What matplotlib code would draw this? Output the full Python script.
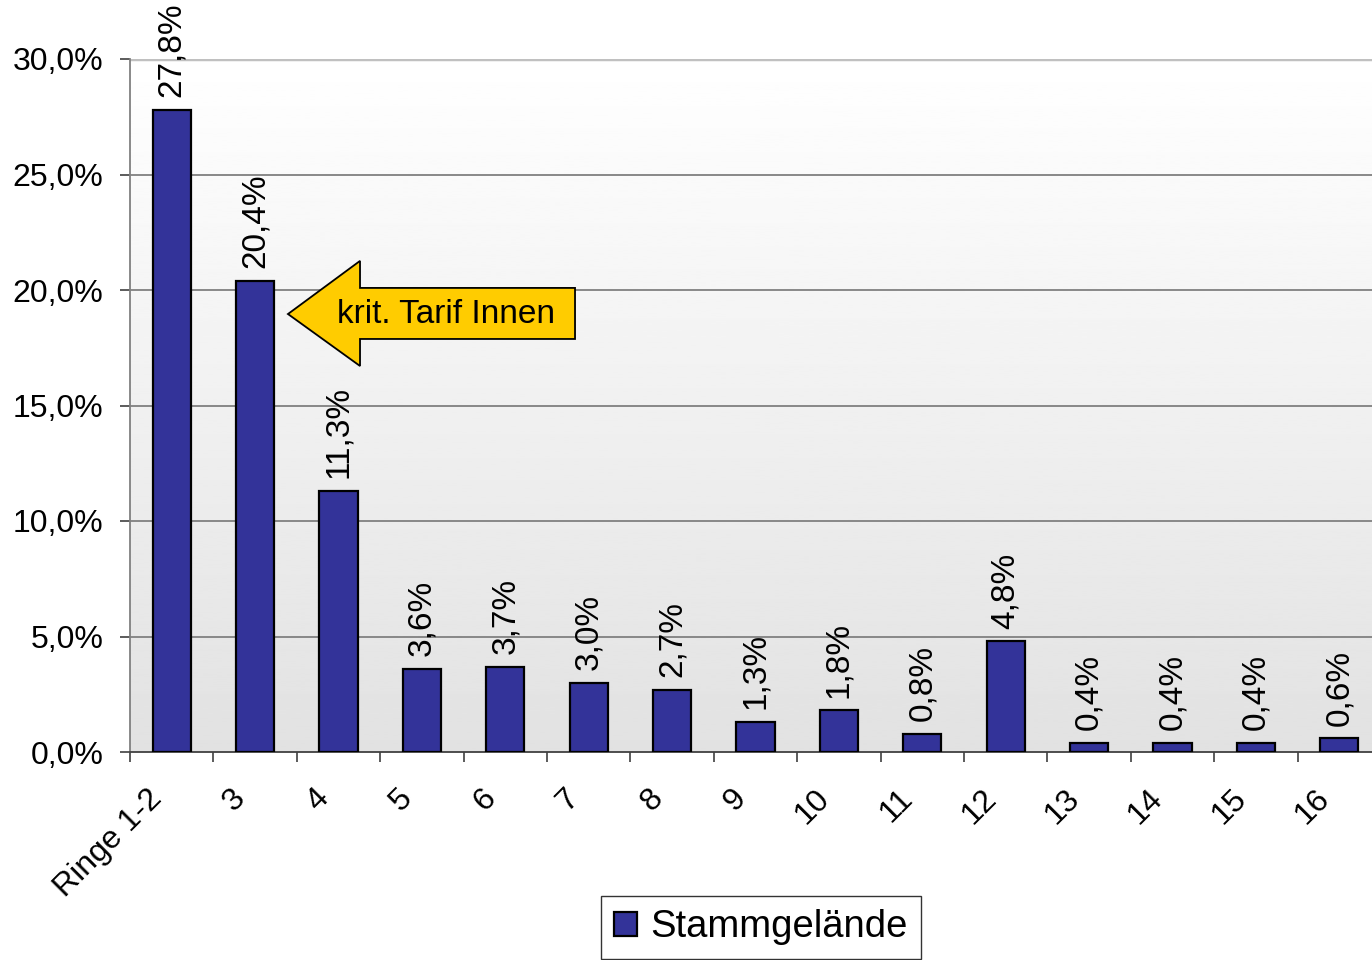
import numpy as np
import matplotlib
matplotlib.use("Agg")
import matplotlib.pyplot as plt
from matplotlib.patches import Polygon
from matplotlib.transforms import ScaledTranslation

plt.rcParams['font.family'] = ['Liberation Sans', 'DejaVu Sans']

# data
categories = ['Ringe 1-2', '3', '4', '5', '6', '7', '8', '9', '10',
              '11', '12', '13', '14', '15', '16']
values = [27.8, 20.4, 11.3, 3.6, 3.7, 3.0, 2.7, 1.3, 1.8, 0.8, 4.8,
          0.4, 0.4, 0.4, 0.6]
series_name = 'Stammgelände'
yticks = [0, 5, 10, 15, 20, 25, 30]

def de_pct(v):
    return ('%.1f%%' % v).replace('.', ',')

fig = plt.figure(figsize=(13.72, 9.6), dpi=100)
ax = fig.add_axes([130/1372, 208/960, 1251/1372, 693/960])
ax.set_xlim(-0.5, len(categories) - 0.5)
ax.set_ylim(0, 30)

# gradient background of the plot area (white at top, light grey at bottom)
grad = np.linspace(1.0, 0.885, 256).reshape(-1, 1)
ax.imshow(grad, cmap='gray', vmin=0, vmax=1, aspect='auto', origin='upper',
          extent=[-0.5, len(categories) - 0.5, 0, 30], zorder=0)

# grid lines
for t in yticks[1:-1]:
    ax.axhline(t, color='#808080', lw=1.3, zorder=1)
ax.axhline(30, color='#c0c0c0', lw=2.5, zorder=1)

x = np.arange(len(categories))
bars = ax.bar(x, values, width=0.46, color='#333399', edgecolor='black',
              linewidth=1.6, zorder=3, label=series_name)

for xi, v in zip(x, values):
    ax.annotate(de_pct(v), (xi, v), xytext=(0, 9), textcoords='offset points',
                rotation=90, ha='center', va='bottom', fontsize=24, zorder=4)

ax.set_yticks(yticks)
ax.set_yticklabels([de_pct(t) for t in yticks], fontsize=23)
ax.set_xticks(np.arange(len(categories) + 1) - 0.5, minor=True)
ax.set_xticks(x)
ax.set_xticklabels(categories, fontsize=23, rotation=45, ha='right',
                   va='center', rotation_mode='anchor')
ax.tick_params(axis='x', which='major', length=0, pad=28)
ax.tick_params(axis='x', which='minor', length=7, width=1.2, color='#404040',
               direction='out')
ax.tick_params(axis='y', length=7, width=1.2, color='#404040', pad=12)
shift = ScaledTranslation(-0.14, -0.03, fig.dpi_scale_trans)
for lab in ax.get_xticklabels():
    lab.set_transform(lab.get_transform() + shift)

for s in ['top', 'right']:
    ax.spines[s].set_visible(False)
ax.spines['left'].set_color('#808080')
ax.spines['left'].set_linewidth(1.3)
ax.spines['bottom'].set_color('#404040')
ax.spines['bottom'].set_linewidth(1.3)

# arrow annotation pointing at the second bar
tip_x, tip_y = 1.394, 18.96
arrow = Polygon([(tip_x, tip_y), (2.258, 21.26), (2.258, 20.09),
                 (4.836, 20.09), (4.836, 17.88), (2.258, 17.88),
                 (2.258, 16.71)], closed=True, facecolor='#ffcc00',
                edgecolor='black', linewidth=1.3, zorder=5)
ax.add_patch(arrow)
ax.text(3.29, tip_y, 'krit. Tarif Innen', fontsize=24, ha='center',
        va='center', zorder=6)

leg = fig.legend(handles=[bars], labels=[series_name], loc='upper left',
                 bbox_to_anchor=(601/1372, 1 - 896/960), borderaxespad=0,
                 fontsize=27.5, frameon=True, fancybox=False, shadow=False,
                 handlelength=0.6, handleheight=0.6, handletextpad=0.35,
                 borderpad=0.35)
leg.get_frame().set_edgecolor('black')
leg.get_frame().set_linewidth(1.0)

fig.savefig('out.png', dpi=100)
